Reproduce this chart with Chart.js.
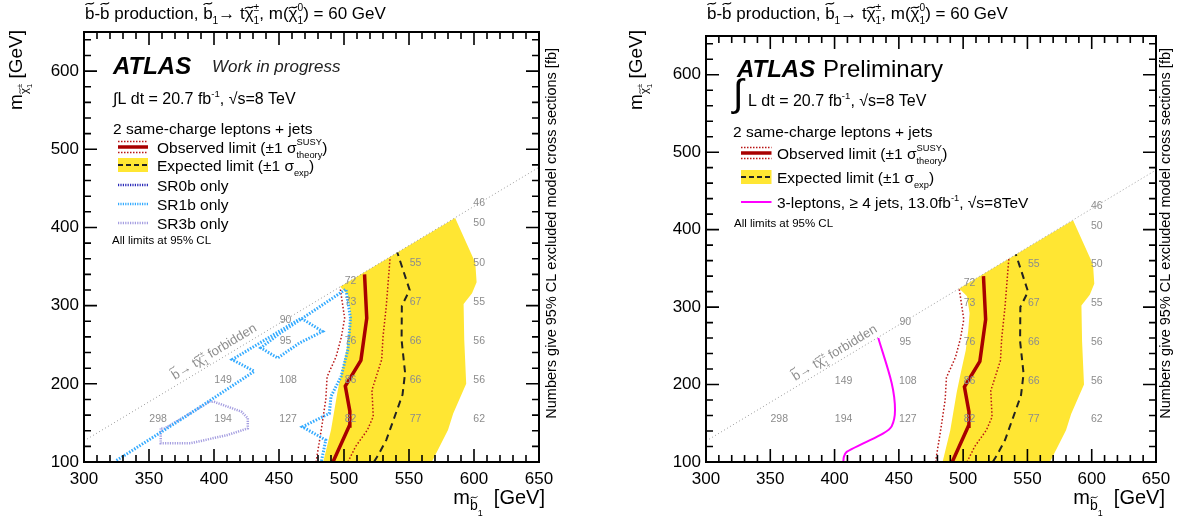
<!DOCTYPE html>
<html>
<head>
<meta charset="utf-8">
<script src="https://cdn.jsdelivr.net/npm/chart.js@4.4.1/dist/chart.umd.min.js"></script>
<style>
  body { margin: 0; background: #fff; }
  .panel { position: absolute; top: 0; height: 519px; }
  #left { left: 0; width: 593px; }
  #right { left: 593px; width: 594px; }
</style>
</head>
<body>
<div class="panel" id="left"><canvas id="cLeft" width="593" height="519"></canvas></div>
<div class="panel" id="right"><canvas id="cRight" width="594" height="519"></canvas></div>
<script>
// mass plane: x = m(sbottom), y = m(chargino), GeV
const xRange = [300, 650];
const yRange = [100, 650];
const xTicks = [300, 350, 400, 450, 500, 550, 600, 650];
const yTicks = [100, 200, 300, 400, 500, 600];
const xMinorStep = 10;
const yMinorStep = 20;

// kinematic limit m(b1) = m(t) + m(chi1)
const kinLine = [[300, 127], [650, 477]];

const obsLimit = [[491.5, 100], [504, 146], [504.5, 165], [501, 197], [513, 230], [517.5, 284], [515.8, 340]];
const obsMinus = [[478.5, 100], [482.5, 141], [486, 180], [487, 209], [494, 235], [498, 260], [500.5, 284], [497, 323]];
const obsPlus = [[503, 100], [509, 120], [518, 141], [522.5, 158], [521.5, 192], [529, 231], [530, 260], [532.5, 299], [535.5, 362]];
const expLimit = [[523, 100], [526, 108], [532.5, 128], [545, 186], [547, 214], [544.3, 256], [544.5, 300], [550.5, 320], [541, 368]];
const expMinus = [[484, 100], [490, 141], [495, 190], [498, 214], [502, 244], [504, 270], [505, 292], [503, 314], [497, 324]];
const expPlus = [[567.5, 100], [580, 141], [584, 162], [594, 200], [592.5, 256], [592, 302], [598.5, 316], [602, 330], [601, 355], [585.5, 412]];

const sr1bOnly = [[325, 102], [378, 158], [431, 216], [414, 231], [467, 284], [483.5, 267], [465.5, 252], [449, 233], [436, 246], [451, 265], [483.5, 301], [501.5, 321], [505, 284], [503, 244], [497.7, 209], [490, 184], [488.7, 162], [468, 145], [486, 128], [482.5, 100]];
const sr3bOnly = [[359, 143], [359, 124], [382, 124], [410.5, 134.6], [426, 143], [426, 156], [421, 164.5], [400, 177], [396.5, 177], [382, 162.5], [362, 143], [359, 143]];
const threeLep = [[406.8, 100], [407.3, 107], [409.4, 113], [422.3, 124], [437.9, 137], [444.4, 146], [447, 167], [444.4, 202], [434, 260]];

// excluded cross sections [fb] at the grid points
const xsecPoints = [
  [357, 155, '298'], [407, 155, '194'], [457, 155, '127'], [505, 155, '82'], [555, 155, '77'], [604, 155, '62'],
  [407, 205, '149'], [457, 205, '108'], [505, 205, '86'], [555, 205, '66'], [604, 205, '56'],
  [455, 255, '95'], [505, 255, '76'], [555, 255, '66'], [604, 255, '56'],
  [455, 281, '90'],
  [505, 305, '73'], [555, 305, '67'], [604, 305, '55'],
  [505, 331, '72'],
  [555, 355, '55'], [604, 355, '50'],
  [604, 405, '50'],
  [604, 431, '46']
];

const FONT = "'Liberation Sans', Arial, sans-serif";
Chart.defaults.font.family = FONT;

const YELLOW = '#ffe633';
const OBS = '#a80000';
const OBS_DOT = '#b81414';
const SR0B = '#2a2ab8';
const SR1B = '#33aaff';
const SR3B = '#a49de0';

const toXY = a => a.map(([x, y]) => ({ x, y }));

function line(data, color, width, dash, extra) {
  return Object.assign({
    data: toXY(data), showLine: true, borderColor: color, borderWidth: width,
    borderDash: dash || [], pointRadius: 0, fill: false, tension: 0, order: 1
  }, extra || {});
}

function tilde(ctx, cx, cy, w, lw) {
  const a = w * 0.14;
  ctx.beginPath();
  ctx.moveTo(cx - w / 2, cy + a);
  ctx.bezierCurveTo(cx - w / 5, cy - 2.2 * a, cx + w / 5, cy + 2.2 * a, cx + w / 2, cy - a);
  ctx.lineWidth = lw;
  ctx.stroke();
}

// small TLatex-like text: parts {t, s: scale, dy: shift in em, tilde, stack}
function drawRich(ctx, parts, x, y, size, align, color) {
  ctx.save();
  ctx.fillStyle = color || '#000';
  ctx.strokeStyle = color || '#000';
  ctx.setLineDash([]);
  ctx.textBaseline = 'alphabetic';
  ctx.textAlign = 'left';
  const laid = [];
  let cx = 0, stackW = null;
  parts.forEach(p => {
    const fs = size * (p.s || 1);
    ctx.font = fs + 'px ' + FONT;
    const pw = ctx.measureText(p.t).width;
    laid.push({ p, fs, x: cx, pw });
    if (p.stack) stackW = pw;
    else { cx += stackW === null ? pw : Math.max(pw, stackW); stackW = null; }
  });
  const x0 = align === 'right' ? x - cx : align === 'center' ? x - cx / 2 : x;
  laid.forEach(l => {
    const by = y + (l.p.dy || 0) * size;
    ctx.font = l.fs + 'px ' + FONT;
    ctx.fillText(l.p.t, x0 + l.x, by);
    if (l.p.tilde) tilde(ctx, x0 + l.x + l.pw / 2, by - l.p.tilde * l.fs, l.fs * 0.5, Math.max(0.8, l.fs * 0.07));
  });
  ctx.restore();
}

const TITLE = [
  { t: 'b', tilde: 0.9 }, { t: '-' }, { t: 'b', tilde: 0.9 }, { t: ' production, ' },
  { t: 'b', tilde: 0.9 }, { t: '1', s: 0.6, dy: 0.3 }, { t: '→ t' },
  { t: 'χ', tilde: 0.68 }, { t: '±', s: 0.6, dy: -0.45, stack: true }, { t: '1', s: 0.6, dy: 0.3 },
  { t: ', m(' }, { t: 'χ', tilde: 0.68 }, { t: '0', s: 0.6, dy: -0.45, stack: true }, { t: '1', s: 0.6, dy: 0.3 },
  { t: ') = 60 GeV' }
];
const XTITLE = [{ t: 'm' }, { t: 'b', s: 0.7, dy: 0.3, tilde: 0.9 }, { t: '1', s: 0.45, dy: 0.6 }, { t: '  [GeV]' }];
const YTITLE = [{ t: 'm' }, { t: 'χ', s: 0.6, dy: 0.3, tilde: 0.68 }, { t: '±', s: 0.4, dy: 0.02, stack: true }, { t: '1', s: 0.4, dy: 0.5 }, { t: ' [GeV]' }];
const ZTITLE = [{ t: 'Numbers give 95% CL excluded model cross sections [fb]' }];
const FORBID = [
  { t: 'b', tilde: 0.9 }, { t: '→ t' }, { t: 'χ', tilde: 0.68 },
  { t: '±', s: 0.6, dy: -0.45, stack: true }, { t: '1', s: 0.6, dy: 0.3 }, { t: ' forbidden' }
];
const OBS_TXT = [{ t: 'Observed limit (±1 σ' }, { t: 'SUSY', s: 0.6, dy: -0.5, stack: true }, { t: 'theory', s: 0.6, dy: 0.35 }, { t: ')' }];
const EXP_TXT = [{ t: 'Expected limit (±1 σ' }, { t: 'exp', s: 0.6, dy: 0.35 }, { t: ')' }];
const LUMI = [{ t: 'L dt = 20.7 fb' }, { t: '-1', s: 0.6, dy: -0.45 }, { t: ', √s=8 TeV' }];
const LEP3_TXT = [{ t: '3-leptons, ≥ 4 jets, 13.0fb' }, { t: '-1', s: 0.6, dy: -0.45 }, { t: ', √s=8TeV' }];

function sampleObs(ctx, x0, x1, cy) {
  ctx.save();
  ctx.strokeStyle = OBS_DOT; ctx.lineWidth = 1.5; ctx.setLineDash([1.5, 1.5]);
  ctx.beginPath();
  ctx.moveTo(x0, cy - 5.5); ctx.lineTo(x1, cy - 5.5);
  ctx.moveTo(x0, cy + 5.5); ctx.lineTo(x1, cy + 5.5);
  ctx.stroke();
  ctx.setLineDash([]); ctx.strokeStyle = OBS; ctx.lineWidth = 3.5;
  ctx.beginPath(); ctx.moveTo(x0, cy); ctx.lineTo(x1, cy); ctx.stroke();
  ctx.restore();
}
function sampleExp(ctx, x0, x1, cy) {
  ctx.save();
  ctx.fillStyle = YELLOW; ctx.fillRect(x0, cy - 7, x1 - x0, 14);
  ctx.strokeStyle = '#222'; ctx.lineWidth = 2; ctx.setLineDash([5, 3]);
  ctx.beginPath(); ctx.moveTo(x0, cy); ctx.lineTo(x1, cy); ctx.stroke();
  ctx.restore();
}
function sampleLine(ctx, x0, x1, cy, color, w, dash) {
  ctx.save();
  ctx.strokeStyle = color; ctx.lineWidth = w; ctx.setLineDash(dash);
  ctx.beginPath(); ctx.moveTo(x0, cy); ctx.lineTo(x1, cy); ctx.stroke();
  ctx.restore();
}

function legendLeft(ctx) {
  ctx.save();
  ctx.fillStyle = '#000';
  ctx.font = 'italic bold 24px ' + FONT;
  ctx.fillText('ATLAS', 113, 74);
  ctx.font = 'italic 17px ' + FONT;
  ctx.fillStyle = '#222';
  ctx.fillText('Work in progress', 212, 72);
  ctx.restore();
  drawRich(ctx, [{ t: '∫' }].concat(LUMI), 113, 104, 16);
  drawRich(ctx, [{ t: '2 same-charge leptons + jets' }], 113, 134, 15.5);
  const rows = [147, 165, 185, 204, 223];
  sampleObs(ctx, 118, 148, rows[0]);
  sampleExp(ctx, 118, 148, rows[1]);
  sampleLine(ctx, 118, 148, rows[2], SR0B, 2.5, [1.2, 1.2]);
  sampleLine(ctx, 118, 148, rows[3], SR1B, 2.5, [1.2, 1.2]);
  sampleLine(ctx, 118, 148, rows[4], SR3B, 2.5, [1.2, 1.2]);
  drawRich(ctx, OBS_TXT, 157, rows[0] + 5.5, 15.5);
  drawRich(ctx, EXP_TXT, 157, rows[1] + 5.5, 15.5);
  drawRich(ctx, [{ t: 'SR0b only' }], 157, rows[2] + 5.5, 15.5);
  drawRich(ctx, [{ t: 'SR1b only' }], 157, rows[3] + 5.5, 15.5);
  drawRich(ctx, [{ t: 'SR3b only' }], 157, rows[4] + 5.5, 15.5);
  drawRich(ctx, [{ t: 'All limits at 95% CL' }], 112, 244, 11.5);
}

function legendRight(ctx) {
  ctx.save();
  ctx.fillStyle = '#000';
  ctx.font = 'italic bold 24px ' + FONT;
  ctx.fillText('ATLAS', 144, 77);
  ctx.font = '24px ' + FONT;
  ctx.fillText('Preliminary', 230, 77);
  ctx.font = '38px ' + FONT;
  ctx.fillText('∫', 140, 106);
  ctx.restore();
  drawRich(ctx, LUMI, 155, 106, 16);
  drawRich(ctx, [{ t: '2 same-charge leptons + jets' }], 140, 137, 15.5);
  const rows = [153, 177, 202];
  sampleObs(ctx, 148, 178.5, rows[0]);
  sampleExp(ctx, 148, 178.5, rows[1]);
  sampleLine(ctx, 148, 178.5, rows[2], '#ff00ff', 2, []);
  drawRich(ctx, OBS_TXT, 184, rows[0] + 5.5, 15.5);
  drawRich(ctx, EXP_TXT, 184, rows[1] + 5.5, 15.5);
  drawRich(ctx, LEP3_TXT, 184, rows[2] + 5.5, 15.5);
  drawRich(ctx, [{ t: 'All limits at 95% CL' }], 141, 227, 11.5);
}

// inward ticks on all four sides of the frame
function drawFrameTicks(chart) {
  const ctx = chart.ctx;
  const a = chart.chartArea;
  const sx = chart.scales.x, sy = chart.scales.y;
  ctx.save();
  ctx.setLineDash([]);
  ctx.strokeStyle = '#000';
  ctx.lineWidth = 1.6;
  ctx.beginPath();
  for (let v = xRange[0]; v <= xRange[1]; v += xMinorStep) {
    const px = sx.getPixelForValue(v);
    const L = v % 50 === 0 ? 13 : 7;
    ctx.moveTo(px, a.bottom); ctx.lineTo(px, a.bottom - L);
    ctx.moveTo(px, a.top); ctx.lineTo(px, a.top + L);
  }
  for (let v = yRange[0]; v <= yRange[1]; v += yMinorStep) {
    const py = sy.getPixelForValue(v);
    const L = v % 100 === 0 ? 13 : 7;
    ctx.moveTo(a.left, py); ctx.lineTo(a.left + L, py);
    ctx.moveTo(a.right, py); ctx.lineTo(a.right - L, py);
  }
  ctx.stroke();
  ctx.lineWidth = 2;
  ctx.strokeRect(a.left, a.top, a.right - a.left, a.bottom - a.top);
  ctx.restore();
}

const atlasDeco = {
  id: 'atlasDeco',
  afterDraw(chart, args, o) {
    const ctx = chart.ctx;
    const a = chart.chartArea;
    const sx = chart.scales.x, sy = chart.scales.y;

    // cross-section numbers
    ctx.save();
    ctx.font = '10.5px ' + FONT;
    ctx.fillStyle = '#8c8c8c';
    ctx.textAlign = 'center';
    ctx.textBaseline = 'middle';
    xsecPoints.forEach(([mx, my, v]) => ctx.fillText(v, sx.getPixelForValue(mx), sy.getPixelForValue(my)));
    ctx.restore();

    // label along the kinematic line
    const p1 = [sx.getPixelForValue(kinLine[0][0]), sy.getPixelForValue(kinLine[0][1])];
    const p2 = [sx.getPixelForValue(kinLine[1][0]), sy.getPixelForValue(kinLine[1][1])];
    ctx.save();
    ctx.translate(sx.getPixelForValue(400), sy.getPixelForValue(241));
    ctx.rotate(Math.atan2(p2[1] - p1[1], p2[0] - p1[0]));
    drawRich(ctx, FORBID, 0, 4, 13, 'center', '#8c8c8c');
    ctx.restore();

    drawFrameTicks(chart);

    // titles
    drawRich(ctx, TITLE, a.left + 1, 19, 17);
    drawRich(ctx, XTITLE, chart.width - o.xTitleRight, 504, 20, 'right');
    ctx.save();
    ctx.translate(o.yTitleX, 30);
    ctx.rotate(-Math.PI / 2);
    drawRich(ctx, YTITLE, 0, 0, 19, 'right');
    ctx.restore();
    ctx.save();
    ctx.translate(chart.width - o.zTitleRight, 48);
    ctx.rotate(-Math.PI / 2);
    drawRich(ctx, ZTITLE, 0, 0, 14.5, 'right');
    ctx.restore();

    if (o.panel === 'left') legendLeft(ctx); else legendRight(ctx);
  }
};

function makeChart(id, panel) {
  const left = panel === 'left';
  const datasets = [
    line(obsLimit, OBS, 3.5, []),
    line(expLimit, '#222', 2, [7, 5]),
    line(obsMinus, OBS_DOT, 1.5, [1.5, 2]),
    line(obsPlus, OBS_DOT, 1.5, [1.5, 2]),
    line(kinLine, '#999', 1, [1, 2.5], { order: 5 }),
    line(expMinus.concat(expPlus.slice().reverse(), [expMinus[0]]), 'rgba(0,0,0,0)', 0, [],
      { fill: 'shape', backgroundColor: YELLOW, order: 10 })
  ];
  if (left) {
    datasets.unshift(line(sr3bOnly, SR3B, 2.5, [1.2, 1.2], { order: 0 }));
    datasets.unshift(line(sr1bOnly, SR1B, 3, [1.5, 1.5], { order: 0 }));
  } else {
    datasets.unshift(line(threeLep, '#ff00ff', 2, [], { order: 0, tension: 0.3 }));
  }

  return new Chart(document.getElementById(id), {
    type: 'scatter',
    data: { datasets },
    options: {
      responsive: false,
      animation: false,
      devicePixelRatio: 1,
      events: [],
      layout: { padding: left ? { top: 32, right: 54, bottom: 0, left: 0 } : { top: 36, right: 31, bottom: 0, left: 0 } },
      plugins: {
        legend: { display: false },
        tooltip: { enabled: false },
        atlasDeco: left
          ? { panel: 'left', xTitleRight: 48, yTitleX: 22, zTitleRight: 37 }
          : { panel: 'right', xTitleRight: 22, yTitleX: 49, zTitleRight: 17 }
      },
      scales: {
        x: {
          type: 'linear', min: xRange[0], max: xRange[1],
          afterBuildTicks: s => { s.ticks = xTicks.map(v => ({ value: v })); },
          ticks: { color: '#000', font: { size: 17 }, padding: 7, maxRotation: 0, autoSkip: false },
          grid: { display: false, drawTicks: false },
          border: { display: false },
          afterFit: s => { s.height = 57; }
        },
        y: {
          type: 'linear', min: yRange[0], max: yRange[1],
          afterBuildTicks: s => { s.ticks = yTicks.map(v => ({ value: v })); },
          ticks: { color: '#000', font: { size: 17 }, padding: 5, autoSkip: false },
          grid: { display: false, drawTicks: false },
          border: { display: false },
          afterFit: s => { s.width = left ? 84 : 113; }
        }
      }
    },
    plugins: [atlasDeco]
  });
}

makeChart('cLeft', 'left');
makeChart('cRight', 'right');
</script>
</body>
</html>
